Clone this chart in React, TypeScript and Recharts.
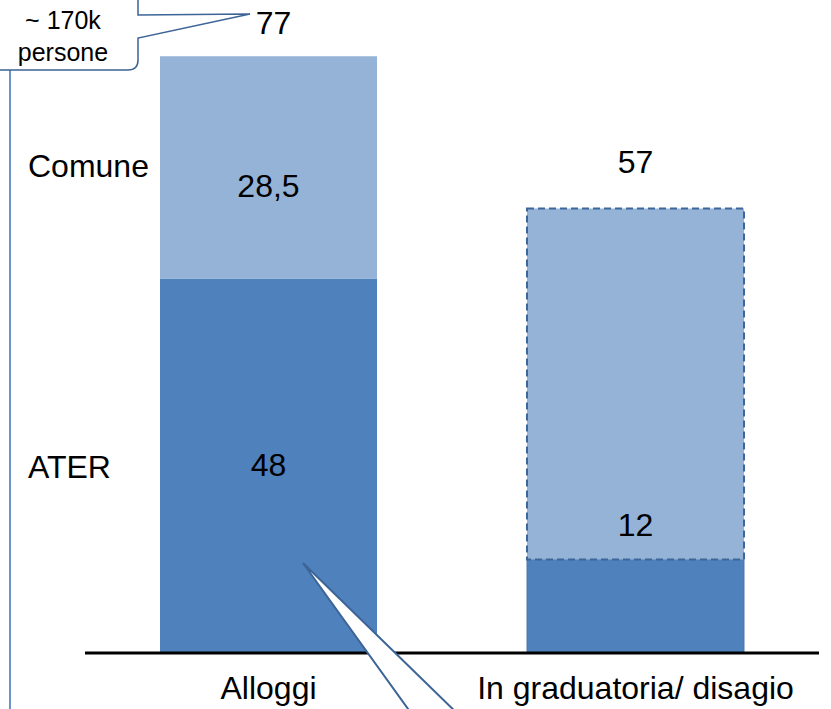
import React from 'react';
import { BarChart, Bar, XAxis, YAxis, Cell, LabelList } from 'recharts';

const categories = ['Alloggi', 'In graduatoria/ disagio'];
const aterValues = [48, 12];
const comuneValues = [28.5, 45];
const totals = [77, 57];
const seriesNames = ['ATER', 'Comune'];
const calloutLines = ['~ 170k', 'persone'];

const data = categories.map((name, i) => ({
  name,
  ater: aterValues[i],
  comune: comuneValues[i],
  total: totals[i],
}));

const FONT = '"Liberation Sans", Arial, sans-serif';
const BIG = 32;
const fmt = (v: number) => String(v).replace('.', ',');

const AterLabel = (props: any) => {
  const x = Number(props.x), y = Number(props.y), w = Number(props.width), h = Number(props.height);
  const i = props.index;
  if (i === 0) {
    return (
      <g fontFamily={FONT} fontSize={BIG} fill="#000">
        <text x={x + w / 2} y={y + h / 2 + 10} textAnchor="middle">{fmt(aterValues[0])}</text>
        <text x={28} y={y + h / 2 + 12} textAnchor="start">{seriesNames[0]}</text>
      </g>
    );
  }
  return (
    <text x={x + w / 2} y={y - 23} textAnchor="middle" fontFamily={FONT} fontSize={BIG} fill="#000">
      {fmt(aterValues[i])}
    </text>
  );
};

const ComuneLabel = (props: any) => {
  const x = Number(props.x), y = Number(props.y), w = Number(props.width);
  const i = props.index;
  if (i === 0) {
    return (
      <g fontFamily={FONT} fontSize={BIG} fill="#000">
        <text x={x + w / 2} y={y + 141} textAnchor="middle">{fmt(comuneValues[0])}</text>
        <text x={28} y={y + 121} textAnchor="start">{seriesNames[1]}</text>
        <text x={x + w / 2 + 5} y={y - 22} textAnchor="middle">{fmt(totals[0])}</text>
      </g>
    );
  }
  return (
    <text x={x + w / 2} y={y - 35} textAnchor="middle" fontFamily={FONT} fontSize={BIG} fill="#000">
      {fmt(totals[i])}
    </text>
  );
};

const CategoryTick = (props: any) => (
  <text x={props.x} y={Number(props.y) + 46} textAnchor="middle" fontFamily={FONT} fontSize={BIG} fill="#000">
    {props.payload.value}
  </text>
);

export default function App() {
  return (
    <div style={{ position: 'absolute', left: 0, top: 0, width: 831, height: 709, background: '#fff', overflow: 'hidden' }}>
      <BarChart width={831} height={709} data={data} margin={{ top: 29, right: 12, bottom: 26, left: 85 }}>
        <YAxis hide domain={[0, 80]} />
        <XAxis
          dataKey="name"
          height={30}
          axisLine={{ stroke: '#000', strokeWidth: 3 }}
          tickLine={false}
          tickSize={0}
          tickMargin={0}
          tick={<CategoryTick />}
          interval={0}
        />
        <Bar dataKey="ater" stackId="a" fill="#4f81bd" barSize={217} isAnimationActive={false}>
          {data.map((_, i) => (
            <Cell key={`ater-${i}`} stroke={i === 1 ? '#4a76ad' : 'none'} strokeWidth={1} />
          ))}
          <LabelList dataKey="ater" content={<AterLabel />} />
        </Bar>
        <Bar dataKey="comune" stackId="a" fill="#95b3d7" barSize={217} isAnimationActive={false}>
          {data.map((_, i) => (
            <Cell
              key={`comune-${i}`}
              stroke={i === 1 ? '#3d6699' : 'none'}
              strokeWidth={2}
              strokeDasharray={i === 1 ? '7 4' : undefined}
            />
          ))}
          <LabelList dataKey="comune" content={<ComuneLabel />} />
        </Bar>
      </BarChart>
      <svg width={831} height={709} style={{ position: 'absolute', left: 0, top: 0, pointerEvents: 'none' }}>
        <line x1={10} y1={70} x2={10} y2={720} stroke="#6f93cc" strokeWidth={2} />
        <path
          d="M -20 -20 L 128 -20 Q 138 -20 138 -10 L 138 15 L 250 14 L 138 38 L 138 60 Q 138 70 128 70 L -20 70 Z"
          fill="#fff"
          stroke="#3c6496"
          strokeWidth={1.5}
        />
        <text x={63} y={29} textAnchor="middle" fontFamily={FONT} fontSize={25} fill="#000">{calloutLines[0]}</text>
        <text x={63} y={61} textAnchor="middle" fontFamily={FONT} fontSize={25} fill="#000">{calloutLines[1]}</text>
        <path d="M 416 720 L 303 563 L 464 720 Z" fill="#fff" stroke="#3c6496" strokeWidth={2} />
      </svg>
    </div>
  );
}
